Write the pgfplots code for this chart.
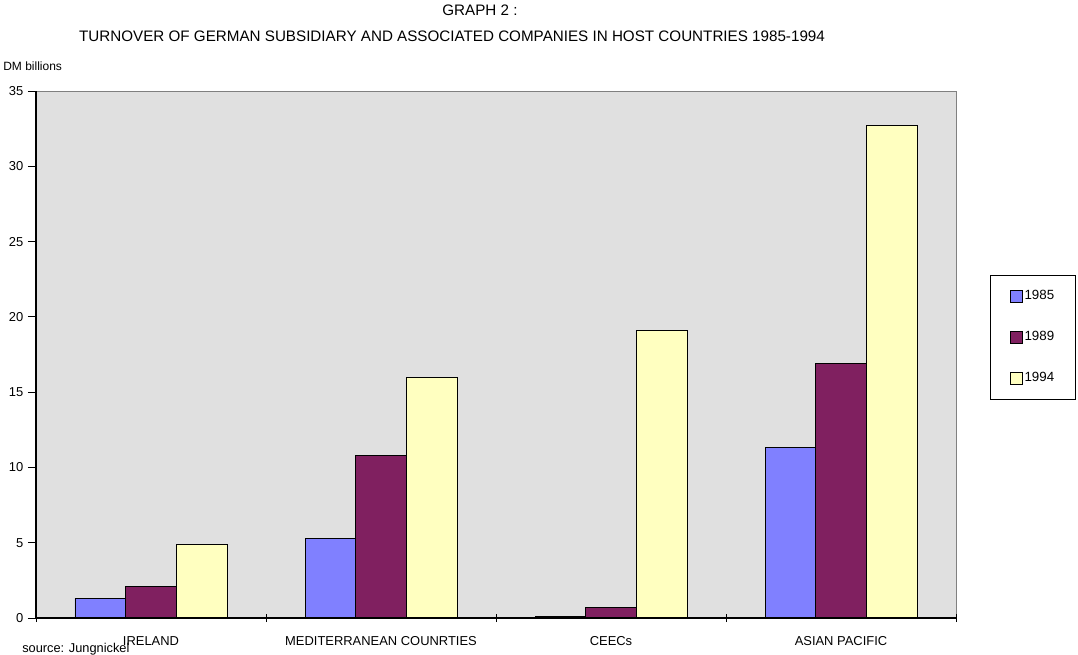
\documentclass[border=0pt]{standalone}
\usepackage{fontspec}
\setmainfont{Liberation Sans}
\usepackage{pgfplots}
\pgfplotsset{compat=1.18}

\definecolor{bar85}{RGB}{128,128,255}
\definecolor{bar89}{RGB}{128,32,96}
\definecolor{bar94}{RGB}{255,255,192}
\definecolor{plotbg}{RGB}{224,224,224}

\begin{document}
\begin{tikzpicture}
% page frame: 1078 x 654 units of 0.75pt, origin at top left
\useasboundingbox (0pt,0pt) rectangle (808.5pt,-490.5pt);

\begin{axis}[
  at={(27pt,-463.5pt)}, anchor=south west,
  scale only axis,
  width=690pt, height=395.25pt,
  ybar=0pt, bar width=38pt,
  xmin=-0.5, xmax=3.5,
  ymin=0, ymax=35,
  xtick={-0.5,0.5,1.5,2.5,3.5},
  x tick label as interval,
  xticklabels={IRELAND, MEDITERRANEAN COUNRTIES, CEECs, ASIAN PACIFIC},
  xtick align=center,
  ytick align=outside,
  major tick length=6pt,
  tick style={black, line width=0.6pt},
  xticklabel style={anchor=base, yshift=-17.5pt, font=\fontsize{9.7}{11}\selectfont},
  ytick={0,5,...,35},
  yticklabel style={font=\fontsize{9.7}{11}\selectfont},
  /pgf/number format/assume math mode=true,
  axis on top,
  axis x line*=bottom, axis y line*=left,
  axis line style={-, black, line width=0.8pt},
  axis background/.style={fill=plotbg, draw=gray},
  legend style={
    at={(1.037,0.651)}, anchor=north west,
    draw=black, line width=0.6pt, fill=white,
    inner xsep=15pt, inner ysep=11pt,
    row sep=21pt,
    nodes={inner xsep=1pt, inner ysep=0pt, text height=7pt, text depth=2pt,
           font=\fontsize{10}{12}\selectfont},
  },
  legend cell align=left,
  legend image code/.code={\draw[#1, draw=black, line width=0.6pt] (0pt,-4.5pt) rectangle (9pt,4.5pt);},
]
\addplot[fill=bar85, draw=black, line width=0.7pt] coordinates {(0,1.3) (1,5.3) (2,0.1) (3,11.3)};
\addplot[fill=bar89, draw=black, line width=0.7pt] coordinates {(0,2.1) (1,10.8) (2,0.7) (3,16.9)};
\addplot[fill=bar94, draw=black, line width=0.7pt] coordinates {(0,4.9) (1,16.0) (2,19.1) (3,32.7)};
\legend{1985,1989,1994}
\end{axis}

\begin{scope}[x=0.75pt, y=-0.75pt]
\node[font=\fontsize{11.4}{13}\selectfont, anchor=base] at (480,15) {GRAPH 2 :};
\node[font=\fontsize{11.4}{13}\selectfont, anchor=base] at (452,41) {TURNOVER OF GERMAN SUBSIDIARY AND ASSOCIATED COMPANIES IN HOST COUNTRIES 1985-1994};
\node[font=\fontsize{9}{11}\selectfont, anchor=base west, inner sep=0pt] at (3,70) {DM billions};
\node[font=\fontsize{9.6}{11}\selectfont, anchor=base west, inner sep=0pt] at (22,652) {source: Jungnickel};
\end{scope}
\end{tikzpicture}
\end{document}
